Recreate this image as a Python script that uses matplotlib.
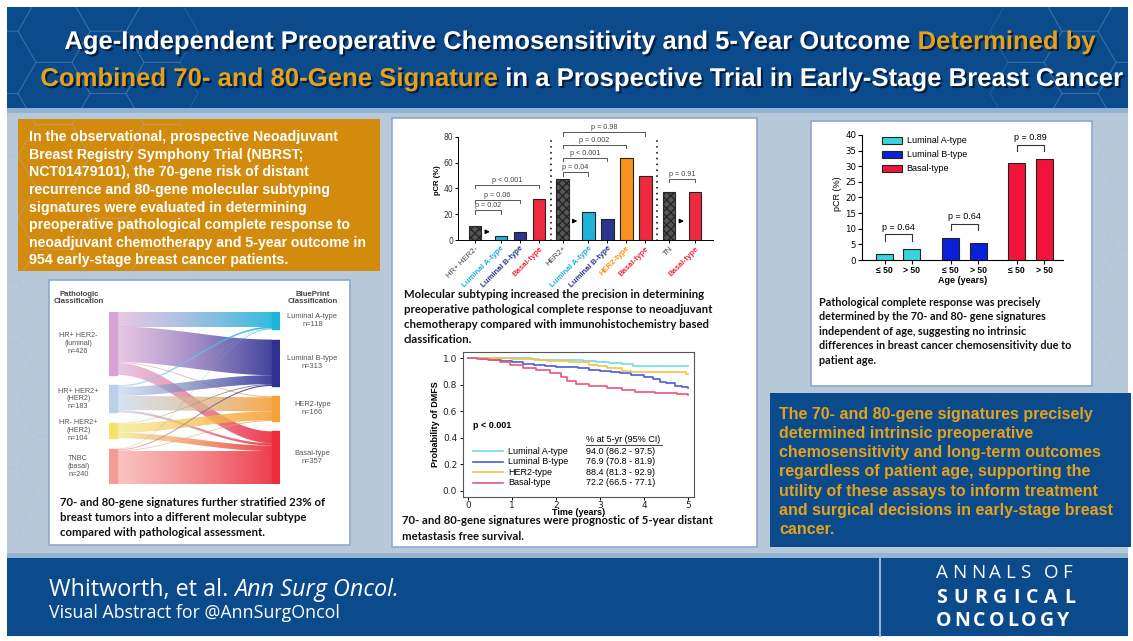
import numpy as np
import matplotlib
matplotlib.use("Agg")
import matplotlib.pyplot as plt
from matplotlib import patheffects
from matplotlib.patches import Rectangle, Patch, PathPatch, RegularPolygon
from matplotlib.path import Path
from matplotlib.colors import to_rgb

W, H = 1133, 641

# ---------------- data ----------------
# pCR by IHC group and by BluePrint subtype
ihc_groups = ["HR+ HER2-", "HER2+", "TN"]
ihc_pcr = [11, 47, 37.5]
subtype_names = [["Luminal A-type", "Luminal B-type", "Basal-type"],
                 ["Luminal A-type", "Luminal B-type", "HER2-type", "Basal-type"],
                 ["Basal-type"]]
subtype_pcr = [[3, 6, 32], [22, 16, 64, 49.5], [37.5]]
subtype_pvals = [["p = 0.02", "p = 0.06", "p < 0.001"],
                 ["p = 0.04", "p < 0.001", "p = 0.002", "p = 0.98"],
                 ["p = 0.91"]]

# DMFS Kaplan-Meier
km_names = ["Luminal A-type", "Luminal B-type", "HER2-type", "Basal-type"]
km_ci = ["94.0 (86.2 - 97.5)", "76.9 (70.8 - 81.9)", "88.4 (81.3 - 92.9)", "72.2 (66.5 - 77.1)"]
lumA_t = [0, 1.45, 1.6, 2.4, 2.6, 2.9, 3.2, 3.5, 3.75, 5.0]
lumA_s = [1.0, 0.995, 0.988, 0.985, 0.98, 0.972, 0.962, 0.955, 0.945, 0.94]
lumB_t = [0, 0.3, 0.5, 0.75, 1.0, 1.25, 1.5, 1.75, 2.0, 2.25, 2.5, 2.75, 3.0, 3.25, 3.45,
          3.7, 4.0, 4.2, 4.35, 4.5, 4.7, 4.85, 5.0]
lumB_s = [1.0, 0.995, 0.987, 0.98, 0.97, 0.96, 0.95, 0.945, 0.937, 0.932, 0.924, 0.915,
          0.904, 0.895, 0.887, 0.875, 0.861, 0.845, 0.824, 0.81, 0.793, 0.782, 0.773]
her2_t = [0, 1.0, 1.25, 1.5, 1.8, 2.3, 2.75, 2.95, 3.15, 3.5, 3.7, 4.75, 4.95, 5.0]
her2_s = [1.0, 0.998, 0.995, 0.99, 0.98, 0.97, 0.95, 0.94, 0.924, 0.904, 0.9, 0.894, 0.882, 0.882]
basal_t = [0, 0.2, 0.45, 0.72, 0.95, 1.25, 1.55, 1.85, 2.1, 2.25, 2.45, 2.75, 3.15, 3.5,
           3.8, 4.25, 4.75, 5.0]
basal_s = [1.0, 0.995, 0.985, 0.975, 0.95, 0.93, 0.912, 0.887, 0.861, 0.829, 0.804, 0.793,
           0.778, 0.761, 0.743, 0.735, 0.728, 0.723]

# pCR by age within subtype
age_names = ["Luminal A-type", "Luminal B-type", "Basal-type"]
age_bins = ["≤ 50", "> 50"]
age_pcr = [[2.0, 3.6], [7.0, 5.5], [31.0, 32.3]]
age_pvals = ["p = 0.64", "p = 0.64", "p = 0.89"]

# Sankey: pathologic -> BluePrint classification
path_names = ["HR+ HER2-\n(luminal)", "HR+ HER2+\n(HER2)", "HR- HER2+\n(HER2)", "TNBC\n(basal)"]
path_n = [426, 183, 104, 240]
bp_names = ["Luminal A-type", "Luminal B-type", "HER2-type", "Basal-type"]
bp_n = [118, 313, 166, 357]
flows = [[100, 240, 6, 80],
         [12, 60, 95, 16],
         [2, 5, 60, 37],
         [4, 8, 5, 223]]

# ---------------- styles ----------------
BLUE = "#0b4a8b"
BAND = "#b7c8d9"
STRIPE = "#93b3d2"
ORANGE = "#d28b0c"
GOLD = "#e4a21c"
SANS = "Liberation Sans"
CAP = ["Lato", "DejaVu Sans"]
sub_col = {"Luminal A-type": "#1fb2da", "Luminal B-type": "#2b3590",
           "HER2-type": "#f7941d", "Basal-type": "#ee2a3f"}
km_col = ["#72dde6", "#4c5cdc", "#f2c544", "#e8577c"]
age_col = ["#36d6df", "#0b1fd9", "#f0143c"]
left_col = ["#d9a2d5", "#bad0e8", "#f3e36a", "#f59c98"]
right_col = ["#1cb5dc", "#2e3092", "#f7a13a", "#ec2a3a"]

fig = plt.figure(figsize=(W / 100, H / 100), dpi=100)
bg = fig.add_axes([0, 0, 1, 1])
bg.set_xlim(0, W)
bg.set_ylim(H, 0)
bg.axis("off")
renderer = fig.canvas.get_renderer()


def px_axes(x0, y0, x1, y1):
    return fig.add_axes([x0 / W, 1 - y1 / H, (x1 - x0) / W, (y1 - y0) / H])


def box(x0, y0, x1, y1, fc, ec="none", lw=0, z=1):
    bg.add_patch(Rectangle((x0, y0), x1 - x0, y1 - y0, facecolor=fc,
                           edgecolor=ec, linewidth=lw, zorder=z))


def row_of_texts(x, y, parts, width=None, center=False, **kw):
    # parts: list of (string, extra kwargs); laid out left to right
    ts = [bg.text(0, y, s, va="center", ha="left", zorder=5, **kw, **extra) for s, extra in parts]
    if width is not None:
        w = sum(t.get_window_extent(renderer).width for t in ts)
        for t in ts:
            t.set_fontsize(t.get_fontsize() * width / w)
    ws = [t.get_window_extent(renderer).width for t in ts]
    if center:
        x = x - sum(ws) / 2
    for t, w in zip(ts, ws):
        t.set_x(x)
        x += w
    return ts


def spaced(x, y, s, width, **kw):
    ts = [bg.text(0, y, ch, va="center", ha="left", zorder=5, **kw) for ch in s]
    ws = [t.get_window_extent(renderer).width for t in ts]
    extra = (width - sum(ws)) / (len(s) - 1)
    for t, w in zip(ts, ws):
        t.set_x(x)
        x += w + extra


# ---------------- background ----------------
box(7, 7, 1128, 108, BLUE)
box(7, 108, 1128, 556, BAND)
box(7, 108, 1128, 113, STRIPE, z=1.1)
box(7, 553, 1128, 558, STRIPE, z=1.1)
box(7, 558, 1128, 636, BLUE)
bg.plot([880, 880], [556, 636], color=STRIPE, lw=1.5, zorder=2)

# faint honeycomb decoration
r = 36
for row in range(-1, 10):
    for col in range(-1, 22):
        cx = col * 1.5 * r
        cy = row * np.sqrt(3) * r + (col % 2) * np.sqrt(3) / 2 * r
        if 175 < cx < 990:
            continue
        hx = RegularPolygon((cx, cy), 6, radius=r, orientation=np.pi / 6,
                            fill=False, edgecolor="#a9c6e6", lw=0.8, alpha=0.16, zorder=1.05)
        bg.add_patch(hx)
        hx.set_clip_path(Rectangle((7, 7), 1121, 548, transform=bg.transData))

# ---------------- title ----------------
shadow = [patheffects.SimplePatchShadow(offset=(1.5, -1.5), shadow_rgbFace="#00122e", alpha=0.8),
          patheffects.Normal()]
tkw = dict(fontsize=13.5, fontweight="bold", family=SANS, path_effects=shadow)
row_of_texts(580, 42, [("Age-Independent Preoperative Chemosensitivity and 5-Year Outcome ",
                        {"color": "white"}), ("Determined by", {"color": GOLD})],
             width=1028, center=True, **tkw)
row_of_texts(582, 79, [("Combined 70- and 80-Gene Signature", {"color": GOLD}),
                       (" in a Prospective Trial in Early-Stage Breast Cancer", {"color": "white"})],
             width=1080, center=True, **tkw)

# ---------------- panels ----------------
box(18, 119, 380, 271, ORANGE)
bg.text(29, 130,
        "In the observational, prospective Neoadjuvant\nBreast Registry Symphony Trial (NBRST;\n"
        "NCT01479101), the 70-gene risk of distant\nrecurrence and 80-gene molecular subtyping\n"
        "signatures were evaluated in determining\npreoperative pathological complete response to\n"
        "neoadjuvant chemotherapy and 5-year outcome in\n954 early-stage breast cancer patients.",
        color="white", fontsize=10.2, fontweight="bold", family=SANS, va="top",
        linespacing=1.33, zorder=3)

box(49, 280, 350, 545, "white", "#8ea8cc", 1.2, z=2)
box(392, 118, 757, 547, "white", "#8ea8cc", 1.2, z=2)
box(811, 121, 1092, 386, "white", "#8ea8cc", 1.2, z=2)
box(770, 393, 1131, 547, BLUE, z=2)

bg.text(779, 406.5,
        "The 70- and 80-gene signatures precisely\ndetermined intrinsic preoperative\n"
        "chemosensitivity and long-term outcomes\nregardless of patient age, supporting the\n"
        "utility of these assays to inform treatment\nand surgical decisions in early-stage breast\ncancer.",
        color=GOLD, fontsize=11.5, fontweight="bold", family=SANS, va="top",
        linespacing=1.36, zorder=3)

cap_kw = dict(fontsize=8.2, fontweight="bold", family=CAP, color="#111", va="top",
              linespacing=1.45, zorder=3)
bg.text(60, 497, "70- and 80-gene signatures further stratified 23% of\n"
        "breast tumors into a different molecular subtype\ncompared with pathological assessment.", **cap_kw)
bg.text(404, 289, "Molecular subtyping increased the precision in determining\n"
        "preoperative pathological complete response to neoadjuvant\n"
        "chemotherapy compared with immunohistochemistry based\nclassification.", **cap_kw)
bg.text(402, 515.5, "70- and 80-gene signatures were prognostic of 5-year distant\n"
        "metastasis free survival.", **cap_kw)
cap_kw.update(fontsize=7.85, linespacing=1.4)
bg.text(819, 296.5, "Pathological complete response was precisely\n"
        "determined by the 70- and 80- gene signatures\nindependent of age, suggesting no intrinsic\n"
        "differences in breast cancer chemosensitivity due to\npatient age.", **cap_kw)

# ---------------- footer ----------------
fkw = dict(fontsize=14, family="Open Sans", color="white")
row_of_texts(49, 590, [("Whitworth, et al. ", {}), ("Ann Surg Oncol.", {"style": "italic"})],
             width=352, **fkw)
row_of_texts(49, 613, [("Visual Abstract for @AnnSurgOncol", {})], width=291, **fkw)
spaced(936, 573, "ANNALS OF", 136, fontsize=13.5, family="Open Sans", color="white")
spaced(936, 598, "SURGICAL", 139, fontsize=14, family="Open Sans", fontweight="bold",
       color="white")
spaced(936, 621, "ONCOLOGY", 133, fontsize=14, family="Open Sans", fontweight="bold",
       color="white")

# ---------------- chart 1: pCR bars ----------------
ax1 = px_axes(458, 120, 713, 240)
ax1.set_facecolor("none")
pos, vals, labels, kinds = [], [], [], []
start = 0.0
group_pos = []
for g, name in enumerate(ihc_groups):
    gp = [start] + [start + 1.35 + k for k in range(len(subtype_names[g]))]
    group_pos.append(gp)
    pos += gp
    vals += [ihc_pcr[g]] + subtype_pcr[g]
    labels += [name] + subtype_names[g]
    kinds += ["ihc"] + subtype_names[g]
    start = gp[-1] + 1.25

for p, v, k in zip(pos, vals, kinds):
    if k == "ihc":
        ax1.bar(p, v, width=0.65, facecolor="#555555", edgecolor="#262626", hatch="xxxx",
                linewidth=0.8, zorder=3)
    else:
        ax1.bar(p, v, width=0.65, color=sub_col[k], edgecolor="#222", linewidth=0.8, zorder=3)

bracket_y = [[23, 31, 43], [52.5, 64, 73.8, 83.6], [47.4]]
arrow_y = [6.4, 14.7, 14.7]
for g, gp in enumerate(group_pos):
    for k, pv in enumerate(subtype_pvals[g]):
        y = bracket_y[g][k]
        x0, x1 = gp[0], gp[k + 1]
        ax1.plot([x0, x0, x1, x1], [y - 2.5, y, y, y - 2.5], color="#555", lw=0.7, zorder=4)
        ax1.text((x0 + x1) / 2, y + 0.8, pv, ha="center", va="bottom", fontsize=5.2,
                 color="#444", family=SANS)
    ax1.annotate("", xy=(gp[0] + 0.92, arrow_y[g]), xytext=(gp[0] + 0.45, arrow_y[g]),
                 arrowprops=dict(arrowstyle="-|>", color="black", lw=0.9, mutation_scale=6))
for xv in [(group_pos[0][-1] + group_pos[1][0]) / 2, (group_pos[1][-1] + group_pos[2][0]) / 2]:
    ax1.plot([xv, xv], [-1, 81], color="#333", lw=1.4, ls=(0, (0.8, 2.2)), clip_on=False)

ax1.set_xlim(-0.9, 12.5)
ax1.set_ylim(0, 93.2)
ax1.spines[["top", "right"]].set_visible(False)
ax1.spines["left"].set_bounds(0, 80)
ax1.set_yticks([0, 20, 40, 60, 80])
ax1.tick_params(axis="y", labelsize=5.5, length=2.5, width=0.7, pad=1, labelcolor="#333")
ax1.tick_params(axis="x", length=2.5, width=0.7, pad=1)
ax1.set_xticks(pos)
ax1.set_xticklabels(labels, rotation=45, ha="right", rotation_mode="anchor", fontsize=5.6,
                    family=SANS)
for tl, k in zip(ax1.get_xticklabels(), kinds):
    if k == "ihc":
        tl.set_color("#444")
    else:
        tl.set_color(sub_col[k])
        tl.set_fontweight("bold")
for s in ["left", "bottom"]:
    ax1.spines[s].set_linewidth(0.7)
ax1.set_ylabel("pCR (%)", fontsize=5.5, fontweight="bold", labelpad=2, family=SANS)

# ---------------- chart 2: DMFS ----------------
ax2 = px_axes(462.7, 352.3, 694, 496.7)
for t, s, c in zip([lumA_t, lumB_t, her2_t, basal_t], [lumA_s, lumB_s, her2_s, basal_s], km_col):
    ax2.step(t, s, where="post", color=c, lw=1.2)
ax2.set_xlim(-0.127, 5.13)
ax2.set_ylim(-0.045, 1.045)
ax2.set_xticks(range(6))
ax2.set_yticks([0, 0.2, 0.4, 0.6, 0.8, 1.0])
ax2.set_yticklabels(["0.0", "0.2", "0.4", "0.6", "0.8", "1.0"])
ax2.tick_params(labelsize=6.5, length=2.5, width=0.7, pad=1.5, labelcolor="#222")
ax2.tick_params(axis="x", pad=0.5)
for s in ax2.spines.values():
    s.set_linewidth(0.8)
    s.set_color("#555")
ax2.set_xlabel("Time (years)", fontsize=6.5, fontweight="bold", labelpad=-1.5, family=SANS)
ax2.set_ylabel("Probability of DMFS", fontsize=6.5, fontweight="bold", labelpad=2, family=SANS)
ax2.text(0.045, 0.49, "p < 0.001", transform=ax2.transAxes, fontsize=6.5, fontweight="bold",
         va="center", family=SANS)
ax2.text(0.533, 0.393, "% at 5-yr (95% CI)", transform=ax2.transAxes, fontsize=6.5,
         va="center", family=SANS)
ax2.plot([0.533, 0.86], [0.36, 0.36], transform=ax2.transAxes, color="#222", lw=0.6)
for i, (nm, ci, c) in enumerate(zip(km_names, km_ci, km_col)):
    yy = 0.316 - i * 0.0737
    ax2.plot([0.045, 0.174], [yy, yy], transform=ax2.transAxes, color=c, lw=1.2)
    ax2.text(0.196, yy, nm, transform=ax2.transAxes, fontsize=6.5, va="center", family=SANS)
    ax2.text(0.533, yy, ci, transform=ax2.transAxes, fontsize=6.5, va="center", family=SANS)

# ---------------- chart 3: pCR by age ----------------
ax3 = px_axes(861.7, 128, 1063.3, 260)
ax3.set_facecolor("none")
apos = []
for i, (nm, v) in enumerate(zip(age_names, age_pcr)):
    px = [i * 2.42, i * 2.42 + 1]
    apos += px
    ax3.bar(px, v, width=0.62, color=age_col[i], edgecolor="#222", linewidth=0.8, zorder=3)
    top = max(v) + 4.6
    ax3.plot([px[0], px[0], px[1], px[1]], [top - 2.1, top, top, top - 2.1], color="#333", lw=0.8)
    ax3.text(sum(px) / 2, top + 0.8, age_pvals[i], ha="center", va="bottom", fontsize=6.5,
             family=SANS)
ax3.set_xticks(apos)
ax3.set_xticklabels(age_bins * len(age_names), fontsize=6.2, fontweight="bold", family=SANS)
ax3.set_xlim(-0.84, 6.54)
ax3.set_ylim(0, 42.2)
ax3.set_yticks(range(0, 41, 5))
ax3.spines[["top", "right"]].set_visible(False)
ax3.spines["left"].set_bounds(0, 40)
for s in ["left", "bottom"]:
    ax3.spines[s].set_linewidth(0.8)
ax3.tick_params(axis="y", labelsize=6.2, length=3, width=0.8, pad=1)
ax3.tick_params(axis="x", length=3, width=0.8, pad=1.5)
ax3.set_xlabel("Age (years)", fontsize=6.5, fontweight="bold", labelpad=0.5, family=SANS)
ax3.set_ylabel("pCR (%)", fontsize=6.5, labelpad=2, family=SANS)
ax3.legend(handles=[Patch(facecolor=c, edgecolor="#222", lw=0.8, label=n)
                    for c, n in zip(age_col, age_names)],
           loc="upper left", bbox_to_anchor=(0.08, 0.97), frameon=False,
           handlelength=2.2, handleheight=0.8, labelspacing=0.55, handletextpad=0.5,
           borderpad=0, prop={"family": SANS, "size": 6.5})

# ---------------- chart 4: sankey ----------------
sk = px_axes(109, 311.7, 280, 484.3)
sk.axis("off")
gap = 70
total = max(sum(path_n), sum(bp_n)) + 3 * gap
nw = 8 / 171
lt = np.concatenate([[0], np.cumsum(np.array(path_n) + gap)[:-1]]).astype(float)
rt = np.concatenate([[0], np.cumsum(np.array(bp_n) + gap)[:-1]]).astype(float)
lcur, rcur = lt.copy(), rt.copy()
xs = np.linspace(nw, 1 - nw, 80)
ease = (1 - np.cos(np.pi * (xs - nw) / (1 - 2 * nw))) / 2
tt = np.linspace(0, 1, 64)[:, None]
for i in range(len(path_n)):
    for j in range(len(bp_n)):
        f = flows[i][j]
        upper = lcur[i] + (rcur[j] - lcur[i]) * ease
        lower = upper + f
        verts = np.vstack([np.column_stack([xs, upper]), np.column_stack([xs[::-1], lower[::-1]])])
        clip = PathPatch(Path(verts), facecolor="none", edgecolor="none")
        sk.add_patch(clip)
        grad = np.zeros((1, 64, 4))
        grad[0, :, :3] = (1 - tt) * np.array(to_rgb(left_col[i])) + tt * np.array(to_rgb(right_col[j]))
        grad[0, :, 3] = 0.6 + 0.3 * tt[:, 0]
        im = sk.imshow(grad, extent=[nw, 1 - nw, total, 0], aspect="auto", zorder=1,
                       interpolation="bilinear")
        im.set_clip_path(clip)
        lcur[i] += f
        rcur[j] += f
for i, n in enumerate(path_n):
    sk.add_patch(Rectangle((0, lt[i]), nw, n, color=left_col[i], zorder=2))
    sk.text(-0.18, lt[i] + n / 2, f"{path_names[i]}\nn={n}", ha="center", va="center",
            fontsize=5.2, color="#555", linespacing=1.15, family=SANS, clip_on=False)
for j, n in enumerate(bp_n):
    sk.add_patch(Rectangle((1 - nw, rt[j]), nw, n, color=right_col[j], zorder=2))
    sk.text(1.19, rt[j] + n / 2, f"{bp_names[j]}\nn={n}", ha="center", va="center",
            fontsize=5.4, color="#555", linespacing=1.15, family=SANS, clip_on=False)
sk.set_xlim(0, 1)
sk.set_ylim(total, 0)
bg.text(79, 298, "Pathologic\nClassification", ha="center", va="center", fontsize=5.6,
        fontweight="bold", color="#444", linespacing=1.1, family=SANS, zorder=3)
bg.text(313, 298, "BluePrint\nClassification", ha="center", va="center", fontsize=5.6,
        fontweight="bold", color="#444", linespacing=1.1, family=SANS, zorder=3)

fig.savefig("out.png", dpi=100)
